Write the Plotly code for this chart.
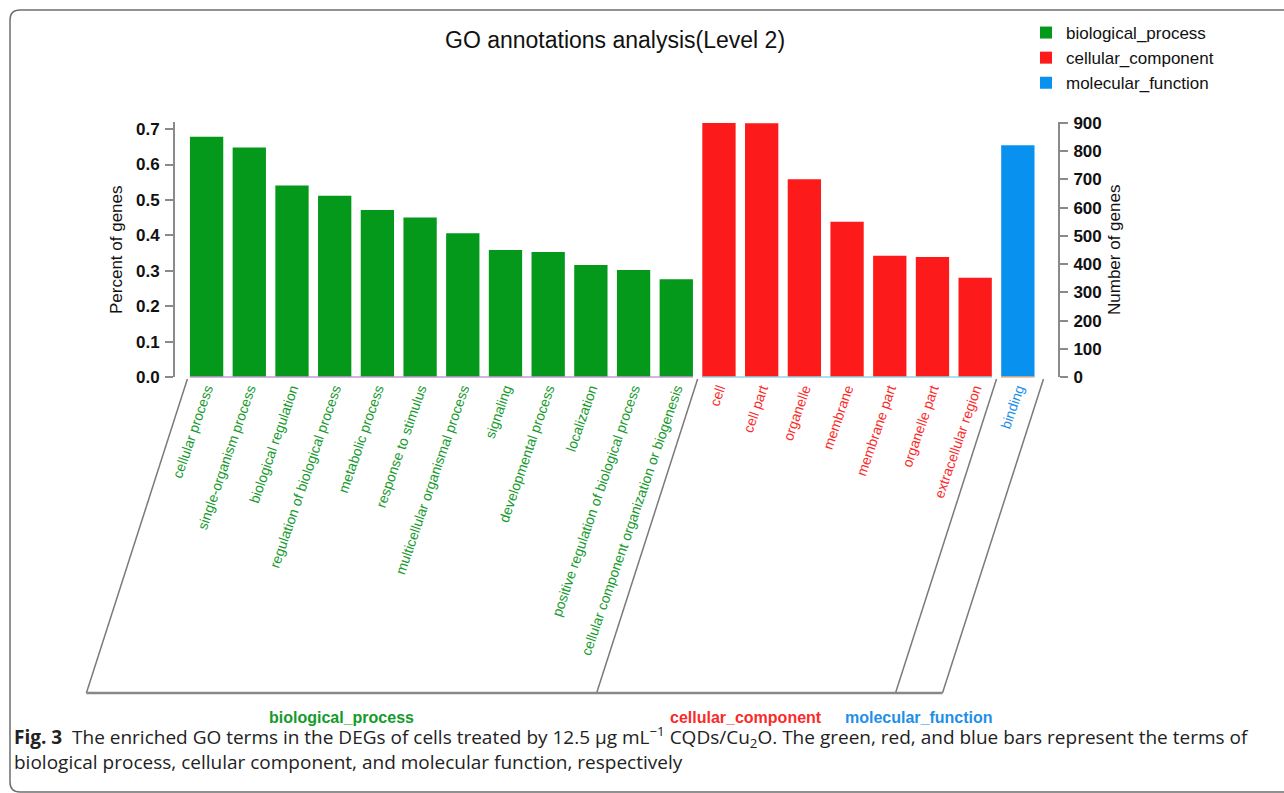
import plotly.graph_objects as go

# GO level-2 terms and the number of annotated genes per term
bp_terms = ["cellular process", "single-organism process", "biological regulation",
            "regulation of biological process", "metabolic process", "response to stimulus",
            "multicellular organismal process", "signaling", "developmental process",
            "localization", "positive regulation of biological process",
            "cellular component organization or biogenesis"]
bp_genes = [851, 813, 679, 642, 592, 565, 509, 450, 443, 397, 379, 346]

cc_terms = ["cell", "cell part", "organelle", "membrane", "membrane part",
            "organelle part", "extracellular region"]
cc_genes = [900, 899, 701, 550, 430, 425, 352]

mf_terms = ["binding"]
mf_genes = [821]

total_genes = 1255          # denominator of the "Percent of genes" axis
pct_ticks = [0.0, 0.1, 0.2, 0.3, 0.4, 0.5, 0.6, 0.7]
gene_ticks = [0, 100, 200, 300, 400, 500, 600, 700, 800, 900]

GREEN, RED, BLUE = "#05991b", "#fd1a1a", "#0891ef"
LBL_GREEN, LBL_RED, LBL_BLUE = "#159a2c", "#fb2a2a", "#1e8fe8"

W, H = 1284, 793
ML, MR, MT, MB = 175, 226, 122, 416
PW, PH = W - ML - MR, H - MT - MB
XR = [-0.74, 19.94]
PCT_MAX = 0.72


def px_x(px):
    return (px - ML) / PW


def px_y(py):
    return (H - MB - py) / PH


def data_x(xd):
    return (xd - XR[0]) / (XR[1] - XR[0])


groups = [
    ("biological_process", bp_terms, bp_genes, GREEN, LBL_GREEN),
    ("cellular_component", cc_terms, cc_genes, RED, LBL_RED),
    ("molecular_function", mf_terms, mf_genes, BLUE, LBL_BLUE),
]

fig = go.Figure()
tickvals, ticktext = [], []
pos = 0
spans = []
for name, terms, genes, col, lcol in groups:
    xs = list(range(pos, pos + len(terms)))
    fig.add_trace(go.Bar(
        x=xs, y=genes, name=name, marker=dict(color=col, line=dict(width=0)),
        width=0.78, yaxis="y2",
    ))
    tickvals += xs
    ticktext += [f'<span style="color:{lcol}">{t}</span>' for t in terms]
    spans.append((xs[0], xs[-1], lcol))
    pos += len(terms)

FONT = "Liberation Sans, Arial, sans-serif"

fig.update_layout(
    width=W, height=H,
    margin=dict(l=ML, r=MR, t=MT, b=MB, autoexpand=False),
    paper_bgcolor="white", plot_bgcolor="white",
    barmode="overlay",
    font=dict(family=FONT, color="#111111"),
    showlegend=True,
    legend=dict(
        x=px_x(1026), y=px_y(15), xanchor="left", yanchor="top",
        font=dict(size=17, color="#111111", family=FONT),
        bgcolor="rgba(0,0,0,0)", tracegroupgap=0, itemclick=False,
    ),
    xaxis=dict(
        range=XR, tickmode="array", tickvals=tickvals, ticktext=ticktext,
        tickangle=-71, tickfont=dict(size=14, family=FONT),
        showline=False, showgrid=False, zeroline=False, ticks="",
    ),
    yaxis=dict(
        range=[0, PCT_MAX], tickvals=pct_ticks, tickformat=".1f",
        showline=True, linecolor="#8a8a8a", linewidth=2,
        ticks="outside", ticklen=8, tickcolor="#8a8a8a", tickwidth=2,
        tickfont=dict(size=17, family=FONT, weight="bold", color="#111111"),
        showgrid=False, zeroline=False, ticklabelstandoff=2,
    ),
    yaxis2=dict(
        range=[0, PCT_MAX * total_genes], tickvals=gene_ticks,
        overlaying="y", side="right",
        showline=True, linecolor="#8a8a8a", linewidth=2,
        ticks="outside", ticklen=8, tickcolor="#8a8a8a", tickwidth=2,
        tickfont=dict(size=17, family=FONT, weight="bold", color="#111111"),
        showgrid=False, zeroline=False, ticklabelstandoff=2,
    ),
)

# invisible point so the percent axis is always drawn
fig.add_trace(go.Scatter(x=[0], y=[0], mode="markers", marker=dict(opacity=0),
                         showlegend=False, hoverinfo="skip", yaxis="y"))

annotations = [
    dict(text="GO annotations analysis(Level 2)", x=px_x(615), y=px_y(40),
         font=dict(size=23, color="#111111", family=FONT)),
    dict(text="Percent of genes", x=px_x(116), y=px_y(250), textangle=-90,
         font=dict(size=17, color="#111111", family=FONT)),
    dict(text="Number of genes", x=px_x(1114), y=px_y(250), textangle=-90,
         font=dict(size=17, color="#111111", family=FONT)),
]

shapes = []
# colored baselines under each group of bars
base_cols = ["#c79ad6", "#8fd6e6", "#e8b48a"]
for (x0, x1, _), bc in zip(spans, base_cols):
    shapes.append(dict(type="line", xref="paper", yref="paper",
                       x0=data_x(x0 - 0.39), x1=data_x(x1 + 0.39), y0=0, y1=0,
                       line=dict(color=bc, width=1.5)))

# slanted brackets grouping the term labels
SLANT = 101 / PW
TOP_Y, BOT_Y = px_y(379), px_y(693)
edges = [-0.45, 11.5, 18.5, 19.6]
for e in edges:
    shapes.append(dict(type="line", xref="paper", yref="paper",
                       x0=data_x(e), y0=TOP_Y, x1=data_x(e) - SLANT, y1=BOT_Y,
                       line=dict(color="#7a7a7a", width=1.5)))
shapes.append(dict(type="line", xref="paper", yref="paper",
                   x0=data_x(edges[0]) - SLANT, x1=data_x(edges[-1]) - SLANT,
                   y0=BOT_Y, y1=BOT_Y, line=dict(color="#888888", width=2.5)))

for i, (name, _, _, _, lcol) in enumerate(groups):
    cx = (data_x(edges[i]) + data_x(edges[i + 1])) / 2 - SLANT
    annotations.append(dict(text=name, x=cx, y=px_y(718),
                            font=dict(size=16, color=lcol, family=FONT, weight="bold")))

CAP = "Open Sans, sans-serif"
annotations.append(dict(
    text="<b>Fig. 3</b>  The enriched GO terms in the DEGs of cells treated by 12.5 μg mL<sup>−1</sup> "
         "CQDs/Cu<sub>2</sub>O. The green, red, and blue bars represent the terms of",
    x=px_x(12), y=px_y(737), xanchor="left",
    font=dict(size=19, color="#222222", family=CAP)))
annotations.append(dict(
    text="biological process, cellular component, and molecular function, respectively",
    x=px_x(12), y=px_y(762), xanchor="left",
    font=dict(size=19, color="#222222", family=CAP)))

for a in annotations:
    a.setdefault("xref", "paper")
    a.setdefault("yref", "paper")
    a.setdefault("showarrow", False)
    a.setdefault("xanchor", "center")
    a.setdefault("yanchor", "middle")

# figure frame with a rounded top-left corner
shapes.append(dict(type="path", xref="paper", yref="paper",
                   path=f"M {px_x(1290)},{px_y(10)} L {px_x(20)},{px_y(10)} "
                        f"Q {px_x(10)},{px_y(10)} {px_x(10)},{px_y(20)} "
                        f"L {px_x(10)},{px_y(782)} Q {px_x(10)},{px_y(792)} {px_x(20)},{px_y(792)} "
                        f"L {px_x(1290)},{px_y(792)}",
                   line=dict(color="#6e6e6e", width=1.5)))

fig.update_layout(annotations=annotations, shapes=shapes)
fig.write_html("out.html")
